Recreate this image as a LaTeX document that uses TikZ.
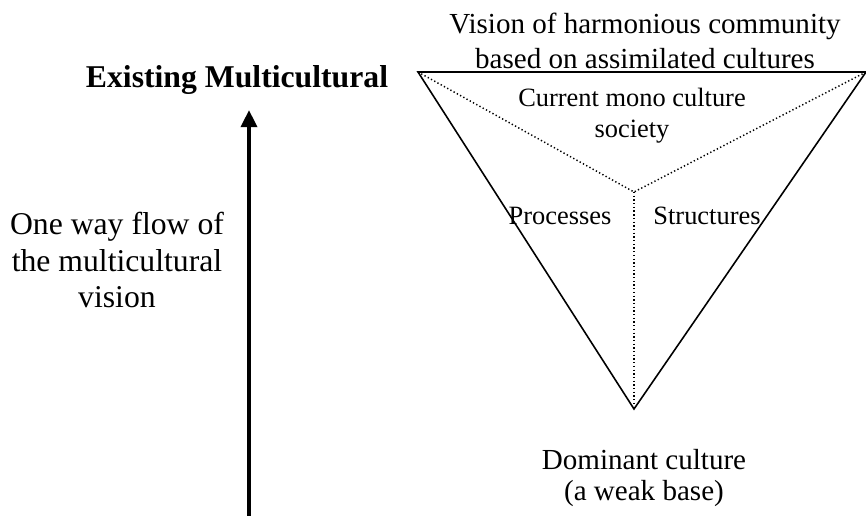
\documentclass[tikz,border=0pt]{standalone}
\usepackage{fontspec}
\setmainfont{Liberation Serif}
\usetikzlibrary{arrows.meta,positioning,calc}
\tikzset{triedge/.style={draw,line width=0.6pt},tridot/.style={draw,dash pattern=on 0.5pt off 0.9pt,line width=0.55pt},trilabel/.style={font=\fontsize{10}{11.7}\selectfont,align=center,inner sep=0pt},midlabel/.style={font=\fontsize{11}{13.2}\selectfont,align=center,inner sep=0pt},biglabel/.style={font=\fontsize{12}{14}\selectfont,align=center,inner sep=0pt},flowarr/.style={-{Triangle[width=6pt,length=6.5pt]},line width=1.5pt}}
\begin{document}
\begin{tikzpicture}[x=0.3785pt,y=-0.3785pt]
\useasboundingbox (0,0) rectangle (866,516);
\coordinate (tl) at (418,72);
\coordinate (tr) at (866,72);
\coordinate (bt) at (634,409);
\coordinate (mid) at (634,192);
\draw[triedge] (tl)--(tr)--(bt)--cycle;
\draw[tridot] (tl)--(mid)--(tr);
\draw[tridot] (mid)--(bt);
\node[midlabel] (vision) at (645,41) {Vision of harmonious community\\based on assimilated cultures};
\node[trilabel] (mono) at (632,116) {Current mono culture\\society};
\node[trilabel] (proc) at (560,216) {Processes};
\node[trilabel] (struct) at (707,216) {Structures};
\node[midlabel,font=\fontsize{11}{12.1}\selectfont] (dominant) at (644,478) {Dominant culture\\(a weak base)};
\node[biglabel,font=\fontsize{12}{14}\selectfont\bfseries,anchor=base] (exist) at (237,88) {Existing Multicultural};
\node[biglabel] (flow) at (117,260) {One way flow of\\the multicultural\\vision};
\coordinate (flowstart) at (249,516);
\coordinate (flowtip) at (249,110);
\draw[flowarr] (flowstart)--(flowtip);
\end{tikzpicture}
\end{document}
